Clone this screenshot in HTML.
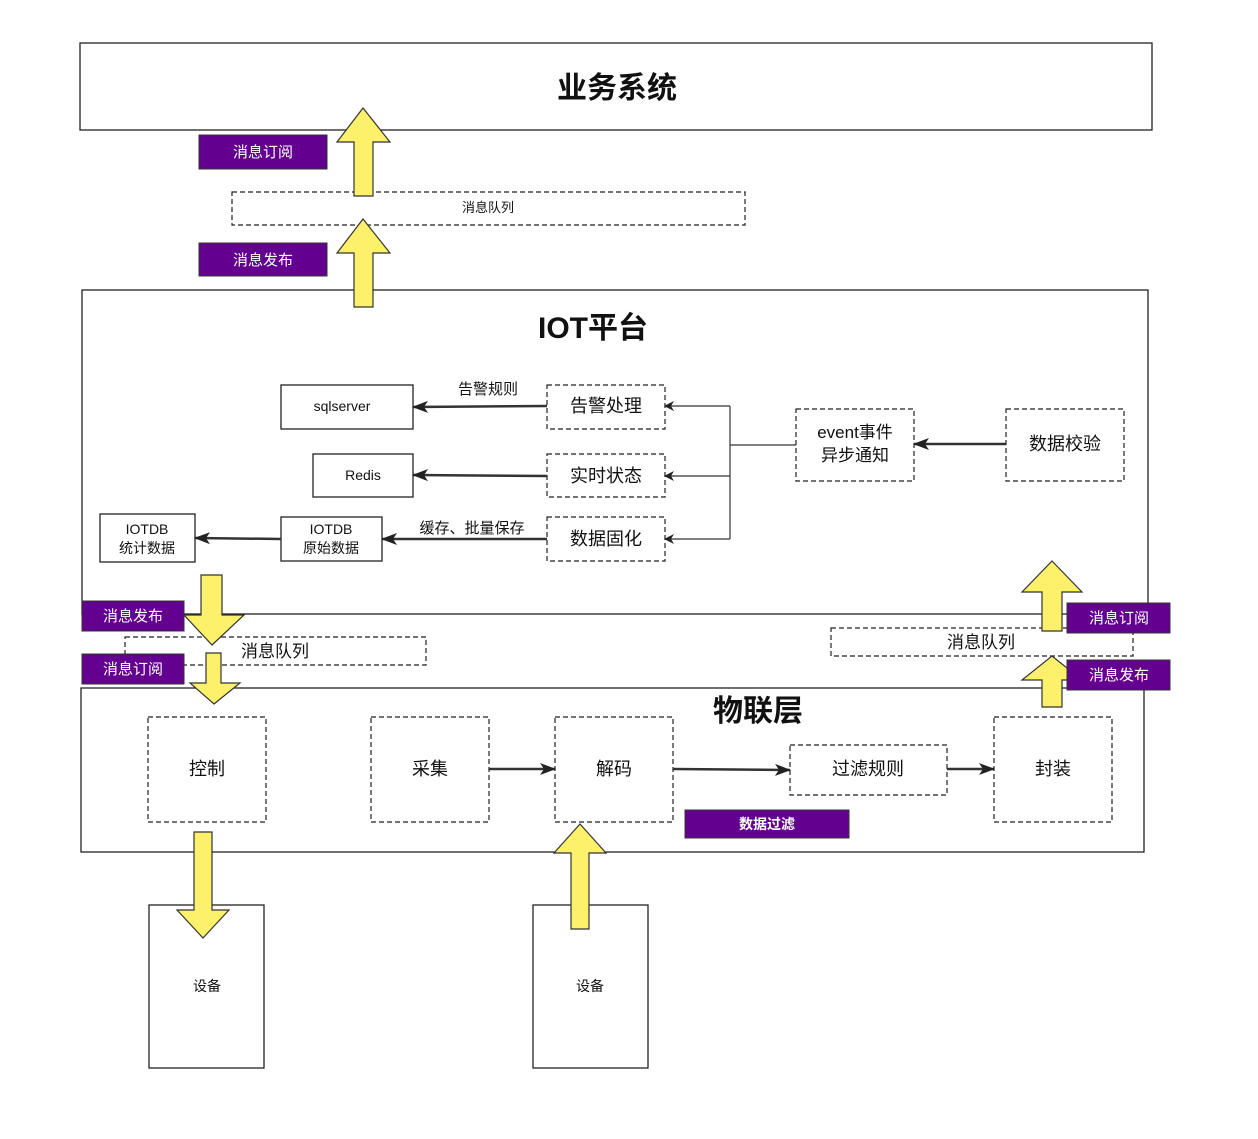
<!DOCTYPE html>
<html><head><meta charset="utf-8"><style>
body{margin:0;background:#fff}
text{font-family:"Liberation Sans","Noto Sans CJK SC",sans-serif;fill:#111}
.w{fill:#fff}
</style></head><body>
<svg width="1258" height="1134" xmlns="http://www.w3.org/2000/svg">
<defs><marker id="a" markerWidth="10" markerHeight="10" refX="9" refY="5" orient="auto" markerUnits="userSpaceOnUse"><path d="M0,0 L10,5 L0,10 L3,5 z" fill="#222"/></marker>
<marker id="b" markerWidth="16" markerHeight="12" refX="15" refY="6" orient="auto" markerUnits="userSpaceOnUse"><path d="M0,0 L16,6 L0,12 L4,6 z" fill="#222"/></marker></defs>
<g fill="none" stroke="#222" stroke-width="1.3">
<rect x="80" y="43" width="1072" height="87"/>
<rect x="82" y="290" width="1066" height="324"/>
<rect x="81" y="688" width="1063" height="164"/>
<rect x="281" y="385" width="132" height="44"/>
<rect x="313" y="454" width="100" height="43"/>
<rect x="100" y="514" width="95" height="48"/>
<rect x="281" y="517" width="101" height="44"/>
<rect x="149" y="905" width="115" height="163"/>
<rect x="533" y="905" width="115" height="163"/>
</g>
<g fill="none" stroke="#222" stroke-width="1.2" stroke-dasharray="5,3">
<rect x="232" y="192" width="513" height="33"/>
<rect x="547" y="385" width="118" height="44"/>
<rect x="547" y="454" width="118" height="43"/>
<rect x="547" y="517" width="118" height="44"/>
<rect x="796" y="409" width="118" height="72"/>
<rect x="1006" y="409" width="118" height="72"/>
<rect x="125" y="637" width="301" height="28"/>
<rect x="831" y="628" width="302" height="28"/>
<rect x="148" y="717" width="118" height="105"/>
<rect x="371" y="717" width="118" height="105"/>
<rect x="555" y="717" width="118" height="105"/>
<rect x="790" y="745" width="157" height="50"/>
<rect x="994" y="717" width="118" height="105"/>
</g>
<g stroke="#333" stroke-width="1.2" fill="none">
<path d="M730,406 V539 M730,445 H796"/>
<path d="M730,406 H665" marker-end="url(#a)"/>
<path d="M730,476 H665" marker-end="url(#a)"/>
<path d="M730,539 H665" marker-end="url(#a)"/>
</g>
<g stroke="#333" stroke-width="2.5" fill="none">
<path d="M1006,444 H914" marker-end="url(#b)"/>
<path d="M547,406 L413,407" marker-end="url(#b)"/>
<path d="M547,476 L413,475" marker-end="url(#b)"/>
<path d="M547,539 H382" marker-end="url(#b)"/>
<path d="M281,539 L195,538" marker-end="url(#b)"/>
<path d="M489,769 H555" marker-end="url(#b)"/>
<path d="M673,769 L790,770" marker-end="url(#b)"/>
<path d="M947,769 H994" marker-end="url(#b)"/>
</g>
<g fill="#fdf06a" stroke="#333" stroke-width="1.2">
<path d="M363,108 L390,142 L373,142 L373,196 L354,196 L354,142 L337,142 Z"/>
<path d="M363,219 L390,253 L373,253 L373,307 L354,307 L354,253 L337,253 Z"/>
<path d="M212,645 L244,615 L222,615 L222,575 L201,575 L201,615 L184,615 Z"/>
<path d="M214,704 L240,683 L221,683 L221,653 L206,653 L206,683 L190,683 Z"/>
<path d="M1052,561 L1082,592 L1062,592 L1062,631 L1042,631 L1042,592 L1022,592 Z"/>
<path d="M1052,656 L1082,680 L1062,680 L1062,707 L1042,707 L1042,680 L1022,680 Z"/>
<path d="M203,938 L229,910 L212,910 L212,832 L194,832 L194,910 L177,910 Z"/>
<path d="M580,824 L606,853 L589,853 L589,929 L571,929 L571,853 L554,853 Z"/>
</g>
<g fill="#63008f" stroke="#333" stroke-width="1">
<rect x="199" y="135" width="128" height="34"/>
<rect x="199" y="243" width="128" height="33"/>
<rect x="82" y="601" width="102" height="30"/>
<rect x="82" y="654" width="102" height="30"/>
<rect x="1067" y="603" width="103" height="30"/>
<rect x="1067" y="660" width="103" height="30"/>
<rect x="685" y="810" width="164" height="28"/>
</g>
<g text-anchor="middle" font-size="15">
<text class="w" x="263" y="157">消息订阅</text>
<text class="w" x="263" y="265">消息发布</text>
<text class="w" x="133" y="621">消息发布</text>
<text class="w" x="133" y="674">消息订阅</text>
<text class="w" x="1119" y="623">消息订阅</text>
<text class="w" x="1119" y="680">消息发布</text>
<text class="w" x="767" y="829" font-size="14" font-weight="bold">数据过滤</text>
<text x="617" y="98" font-size="30" font-weight="bold">业务系统</text>
<text x="593" y="338" font-size="30" font-weight="bold">IOT平台</text>
<text x="758" y="721" font-size="30" font-weight="bold">物联层</text>
<text x="488" y="212" font-size="13">消息队列</text>
<text x="275" y="657" font-size="17">消息队列</text>
<text x="981" y="648" font-size="17">消息队列</text>
<text x="342" y="411" font-size="14">sqlserver</text>
<text x="363" y="480" font-size="14">Redis</text>
<text x="147" y="534" font-size="14">IOTDB</text>
<text x="147" y="553" font-size="14">统计数据</text>
<text x="331" y="534" font-size="14">IOTDB</text>
<text x="331" y="553" font-size="14">原始数据</text>
<text x="488" y="394" font-size="15" fill="#444">告警规则</text>
<text x="472" y="533" font-size="15" fill="#444">缓存、批量保存</text>
<text x="606" y="412" font-size="18">告警处理</text>
<text x="606" y="482" font-size="18">实时状态</text>
<text x="606" y="545" font-size="18">数据固化</text>
<text x="855" y="438" font-size="17">event事件</text>
<text x="855" y="461" font-size="17">异步通知</text>
<text x="1065" y="450" font-size="18">数据校验</text>
<text x="207" y="775" font-size="18">控制</text>
<text x="430" y="775" font-size="18">采集</text>
<text x="614" y="775" font-size="18">解码</text>
<text x="868" y="775" font-size="18">过滤规则</text>
<text x="1053" y="775" font-size="18">封装</text>
<text x="207" y="991" font-size="14">设备</text>
<text x="590" y="991" font-size="14">设备</text>
</g>
</svg>
</body></html>
